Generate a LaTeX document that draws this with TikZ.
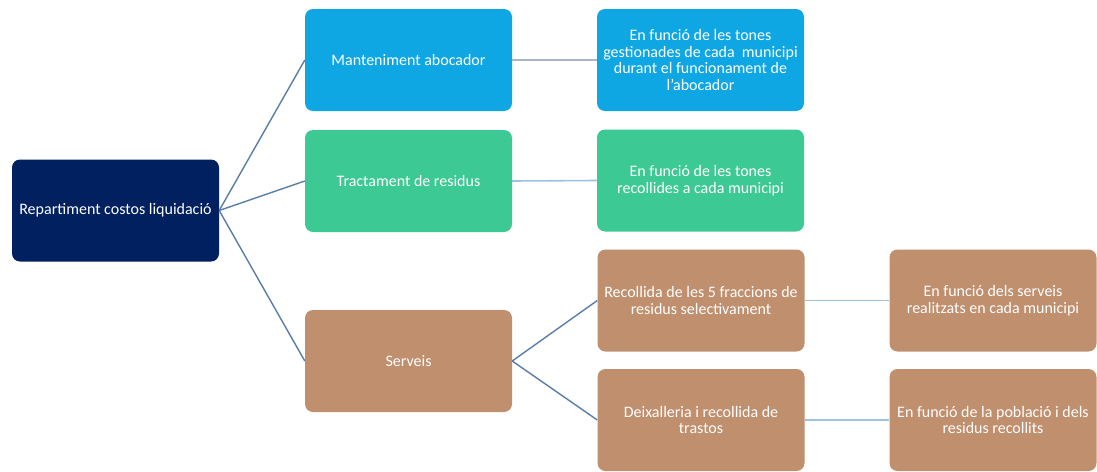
\documentclass[tikz,border=0pt]{standalone}
\usepackage{fontspec}
\setmainfont{Carlito}
\definecolor{navy}{HTML}{002060}
\definecolor{cblue}{HTML}{0EA7E3}
\definecolor{cgreen}{HTML}{3CC994}
\definecolor{ctan}{HTML}{BF8F6E}
\definecolor{lnA}{HTML}{5A7DA8}
\definecolor{lnB}{HTML}{A9B6C8}
\definecolor{lnC}{HTML}{9CC2DF}
\begin{document}
\begin{tikzpicture}[x=1pt,y=-1pt,
  box/.style={rounded corners=8pt, inner sep=0pt, text=white, align=center,
    font=\fontsize{16}{16.8}\selectfont, minimum width=207pt, minimum height=102pt},
  conA/.style={draw=lnA, line width=1.4pt},
  conB/.style={draw=lnB, line width=1.6pt},
  conC/.style={draw=lnC, line width=1.6pt}]
\useasboundingbox (0,0) rectangle (1097,471);
\node[box, fill=navy] (root) at (115.5,210.5) {Repartiment costos liquidació};
\node[box, fill=cblue] (man) at (408.5,60) {Manteniment abocador};
\node[box, fill=cgreen] (tra) at (408.5,181) {Tractament de residus};
\node[box, fill=ctan] (ser) at (408.5,361) {Serveis};
\node[box, fill=cblue] (manT) at (700.5,60) {En funció de les tones\\ gestionades de cada\ \ municipi\\ durant el funcionament de\\ l’abocador};
\node[box, fill=cgreen] (traT) at (700.5,180.5) {En funció de les tones\\ recollides a cada municipi};
\node[box, fill=ctan] (rec) at (701,300.5) {Recollida de les 5 fraccions de\\ residus selectivament};
\node[box, fill=ctan] (dei) at (701,420) {Deixalleria i recollida de\\ trastos};
\node[box, fill=ctan] (recT) at (993,300.5) {En funció dels serveis\\ realitzats en cada municipi};
\node[box, fill=ctan] (deiT) at (993,420) {En funció de la població i dels\\ residus recollits};
\draw[conA] (root.east) -- (man.west);
\draw[conA] (root.east) -- (tra.west);
\draw[conA] (root.east) -- (ser.west);
\draw[conA] (ser.east) -- (rec.west);
\draw[conA] (ser.east) -- (dei.west);
\draw[conB] (man.east) -- (manT.west);
\draw[conC] (tra.east) -- (traT.west);
\draw[conC] (rec.east) -- (recT.west);
\draw[conC] (dei.east) -- (deiT.west);
\end{tikzpicture}
\end{document}
